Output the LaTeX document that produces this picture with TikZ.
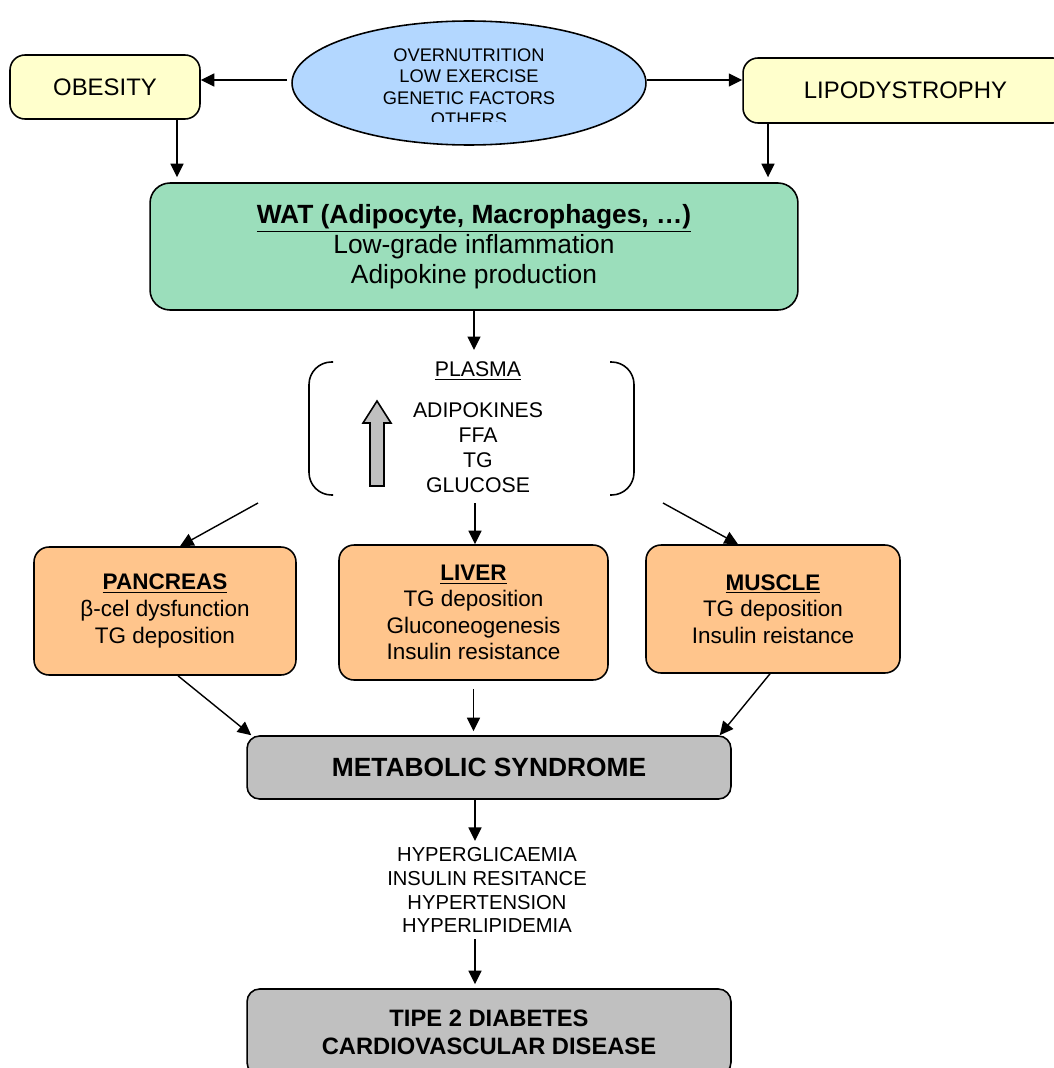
\documentclass[tikz,border=0pt]{standalone}
\usepackage{fontspec}
\setmainfont{Liberation Sans}
\usetikzlibrary{arrows.meta}
\usetikzlibrary{shapes.geometric}
\definecolor{myyellow}{RGB}{255,255,204}
\definecolor{myblue}{RGB}{179,215,255}
\definecolor{mygreen}{RGB}{155,222,187}
\definecolor{myorange}{RGB}{255,197,140}
\definecolor{mygray}{RGB}{192,192,192}

\begin{document}
\begin{tikzpicture}[x=0.02cm,y=-0.02cm,
  box/.style={draw,line width=0.9pt,rounded corners=0.3cm,align=center,inner sep=0pt},
  arr/.style={-{Triangle[length=2.7mm,width=2.6mm]},line width=0.8pt}]
\useasboundingbox (0,0) rectangle (1054,1068);

%%%%%%%%%%   causes
\node[box,fill=myyellow,minimum width=3.8cm,minimum height=1.28cm,font=\fontsize{13.6}{16}\selectfont] (obesity) at (105,87) {OBESITY};
\node[box,fill=myyellow,minimum width=6.5cm,minimum height=1.3cm,font=\fontsize{13.6}{16}\selectfont] (lipo) at (905.5,90.5) {LIPODYSTROPHY};
\node[draw,ellipse,fill=myblue,line width=0.9pt,minimum width=7.08cm,minimum height=2.48cm,inner sep=0pt] (causes) at (469,83) {};
\begin{scope}
\clip (380,40) rectangle (560,122);
\node[align=center,font=\fontsize{10.4}{12.2}\selectfont] (causetext) at (469,87) {OVERNUTRITION\\LOW EXERCISE\\GENETIC FACTORS\\OTHERS};
\end{scope}
\coordinate (cl) at (287,80);
\coordinate (cr) at (647,80);
\draw[arr] (cl) -- (cl -| obesity.east);
\draw[arr] (cr) -- (cr -| lipo.west);

%%%%%%%%%%   WAT
\node[box,fill=mygreen,rounded corners=0.4cm,minimum width=12.96cm,minimum height=2.54cm,font=\fontsize{15}{17}\selectfont] (wat) at (474,246.5) {\textbf{\underline{WAT (Adipocyte, Macrophages, …)}}\\Low-grade inflammation\\Adipokine production};
\coordinate (ob) at ([xshift=1.44cm]obesity.south);
\coordinate (lp) at ([xshift=-2.75cm]lipo.south);
\draw[arr,shorten >=0.1cm] (ob) -- (ob |- wat.north);
\draw[arr,shorten >=0.1cm] (lp) -- (lp |- wat.north);

%%%%%%%%%%   plasma
\node[font=\fontsize{12.1}{14.2}\selectfont] (plasmatitle) at (478,371) {\underline{PLASMA}};
\node[align=center,font=\fontsize{12.1}{14.2}\selectfont] (plasma) at (478,447.5) {ADIPOKINES\\FFA\\TG\\GLUCOSE};
\draw[line width=0.9pt,rounded corners=0.45cm] (333,362) -- (309,362) -- (309,495) -- (333,495);
\draw[line width=0.9pt,rounded corners=0.45cm] (610,362) -- (634,362) -- (634,495) -- (610,495);
\draw[line width=0.9pt,fill=mygray] (370,486) -- (370,423) -- (363,423) -- (377,401) -- (391,423) -- (384,423) -- (384,486) -- cycle;
\coordinate (pt) at (474,350);
\coordinate (pl) at (258,503);
\coordinate (pc) at (475,503);
\coordinate (pr) at (663,503);
\draw[arr] (wat.south) -- (pt);

%%%%%%%%%%   organs
\node[box,fill=myorange,minimum width=5.24cm,minimum height=2.56cm,font=\fontsize{12.8}{15.2}\selectfont] (pancreas) at (165,611) {\textbf{\underline{PANCREAS}}\\β-cel dysfunction\\TG deposition};
\node[box,fill=myorange,minimum width=5.38cm,minimum height=2.7cm,font=\fontsize{12.8}{15}\selectfont] (liver) at (473.5,612.5) {\textbf{\underline{LIVER}}\\TG deposition\\Gluconeogenesis\\Insulin resistance};
\node[box,fill=myorange,minimum width=5.08cm,minimum height=2.56cm,font=\fontsize{12.8}{15.2}\selectfont] (muscle) at (773,609) {\textbf{\underline{MUSCLE}}\\TG deposition\\Insulin reistance};
\draw[arr] (pl) -- ([xshift=0.3cm]pancreas.north);
\draw[arr] (pc) -- (pc |- liver.north);
\draw[arr] (pr) -- ([xshift=-0.7cm]muscle.north);

%%%%%%%%%%   syndrome
\node[box,fill=mygray,rounded corners=0.25cm,minimum width=9.68cm,minimum height=1.26cm,font=\bfseries\fontsize{15}{18}\selectfont] (metabolic) at (489,767.5) {METABOLIC SYNDROME};
\coordinate (lv) at ([yshift=-0.16cm]liver.south);
\draw[arr] ([xshift=0.26cm]pancreas.south) -- ([xshift=0.1cm]metabolic.north west);
\draw[arr,shorten >=0.08cm] (lv) -- (lv |- metabolic.north);
\draw[arr] ([xshift=-0.06cm]muscle.south) -- ([xshift=-0.24cm]metabolic.north east);

\node[align=center,font=\fontsize{11.5}{13.6}\selectfont] (risks) at (487,890) {HYPERGLICAEMIA\\INSULIN RESITANCE\\HYPERTENSION\\HYPERLIPIDEMIA};
\node[box,fill=mygray,rounded corners=0.25cm,minimum width=9.68cm,minimum height=1.72cm,font=\bfseries\fontsize{13.5}{15.9}\selectfont] (diabetes) at (489,1032) {TIPE 2 DIABETES\\CARDIOVASCULAR DISEASE};
\coordinate (ms) at ([xshift=-0.28cm]metabolic.south);
\coordinate (rk) at ([xshift=-0.24cm]risks.south);
\draw[arr] (ms) -- (ms |- risks.north);
\draw[arr,shorten >=0.08cm] (rk) -- (rk |- diabetes.north);
\end{tikzpicture}
\end{document}
